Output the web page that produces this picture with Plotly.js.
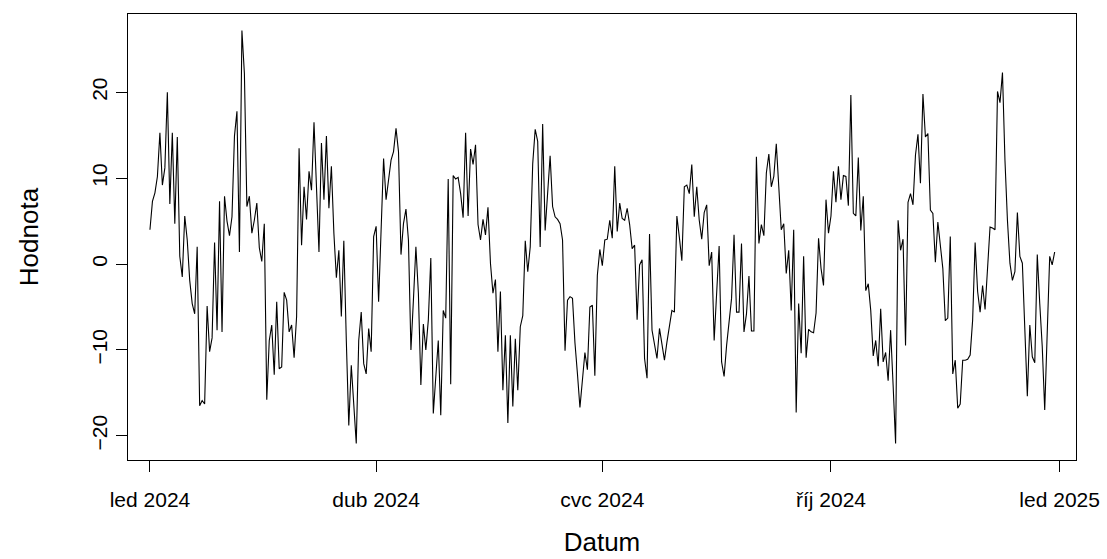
<!DOCTYPE html>
<html>
<head>
<meta charset="utf-8">
<script src="https://cdn.plot.ly/plotly-3.0.1.min.js"></script>
<style>html,body{margin:0;padding:0;background:#fff;}#chart{width:1107px;height:559px;}</style>
</head>
<body>
<div id="chart"></div>
<script>
// Daily series, starting 1 Jan 2024
const startDate = '2024-01-01';
const values = [
 4.0, 7.3, 8.3, 10.2, 15.3, 9.2, 11.2, 20.0, 7.0, 15.3,
 4.7, 14.8, 0.9, -1.5, 5.6, 2.8, -1.9, -4.6, -5.8, 2.0,
 -16.5, -15.9, -16.3, -4.9, -10.2, -8.6, 2.5, -7.7, 7.3, -7.9,
 7.9, 5.0, 3.3, 5.5, 14.9, 17.8, 1.4, 27.2, 22.2, 6.7,
 7.9, 3.6, 5.1, 7.1, 1.9, 0.3, 4.7, -15.8, -8.9, -7.1,
 -12.9, -4.4, -12.2, -12.0, -3.3, -4.2, -7.9, -7.1, -10.9, -6.1,
 13.5, 2.2, 9.0, 5.2, 10.8, 8.6, 16.5, 8.0, 1.4, 14.1,
 7.5, 14.9, 6.5, 11.4, 3.6, -1.6, 1.6, -6.1, 2.7, -8.9,
 -18.8, -11.8, -17.0, -20.9, -8.9, -5.6, -11.6, -12.8, -7.5, -10.2,
 3.2, 4.4, -4.4, 4.0, 12.3, 7.5, 9.8, 12.1, 13.1, 15.8,
 13.1, 1.1, 4.7, 6.4, 2.8, -10.0, -4.2, 2.0, -3.4, -14.1,
 -7.0, -10.0, -6.5, 0.7, -17.4, -12.7, -8.9, -17.6, -5.4, -6.3,
 9.9, -14.0, 10.3, 9.9, 10.1, 8.2, 5.4, 15.3, 5.6, 13.4,
 11.6, 13.9, 4.6, 2.8, 5.2, 3.4, 6.6, 0.1, -3.4, -1.8,
 -10.2, -3.2, -14.7, -8.3, -18.5, -8.3, -16.6, -8.7, -14.7, -7.3,
 -6.0, 2.7, -0.9, 2.0, 11.7, 15.7, 14.3, 2.0, 16.3, 3.9,
 8.2, 12.6, 6.7, 5.5, 5.2, 4.7, 2.8, -10.1, -4.2, -3.8,
 -4.0, -9.2, -12.8, -16.7, -13.5, -10.3, -12.3, -5.0, -4.8, -13.0,
 -1.3, 1.7, -0.2, 2.8, 2.9, 5.1, 3.0, 11.4, 3.8, 7.1,
 5.3, 5.1, 6.5, 4.6, 1.8, 2.2, -6.5, -0.1, 0.5, -11.0,
 -13.3, 3.5, -7.7, -9.5, -11.0, -7.5, -9.5, -11.2, -9.1, -7.3,
 -5.4, -5.6, 5.6, 3.1, 0.4, 9.0, 9.2, 8.2, 11.6, 5.5,
 9.0, 5.1, 2.9, 6.0, 6.9, -0.2, 1.4, -8.9, -3.4, 2.1,
 -11.4, -13.1, -9.5, -6.5, -4.0, 3.4, -5.6, -5.6, 2.4, -7.9,
 -5.8, -1.4, -7.8, -7.8, 12.5, 2.4, 4.6, 3.3, 10.6, 12.8,
 9.0, 10.2, 14.0, 9.0, 4.0, 4.7, -1.1, 1.6, -5.4, 4.0,
 -17.3, -4.6, -10.4, 0.9, -10.9, -7.6, -7.9, -8.0, -5.7, 3.0,
 -0.5, -2.5, 7.5, 3.6, 5.6, 10.8, 7.2, 11.4, 7.5, 10.3,
 10.2, 6.8, 19.7, 5.9, 5.6, 12.4, 3.9, 7.9, -3.1, -2.3,
 -5.4, -10.7, -8.9, -11.9, -5.2, -11.4, -10.3, -13.6, -7.7, -14.1,
 -20.9, 5.1, 1.6, 2.9, -9.5, 7.2, 8.2, 6.9, 12.7, 15.1,
 9.4, 19.8, 14.8, 15.2, 6.3, 5.9, 0.2, 4.9, 2.4, -0.5,
 -6.6, -6.3, 3.2, -12.8, -11.2, -16.8, -16.3, -11.2, -11.2, -11.1,
 -10.6, -6.5, 2.5, -3.2, -5.6, -2.5, -5.3, -0.1, 4.3, 4.2,
 4.0, 20.1, 18.8, 22.3, 12.1, 5.1, 0.1, -1.9, -0.9, 6.0,
 0.9, 0.1, -7.3, -15.4, -7.1, -10.8, -11.5, 1.1, -4.6, -9.6,
 -17.0, -7.3, 0.9, -0.1, 1.4
];
const xTickDates = ['2024-01-01', '2024-04-01', '2024-07-01', '2024-10-01', '2025-01-01'];
const xTickLabels = ['led 2024', 'dub 2024', 'cvc 2024', 'říj 2024', 'led 2025'];
const yTickVals = [-20, -10, 0, 10, 20];
const xTitle = 'Datum';
const yTitle = 'Hodnota';

function isoDay(i) {
  const d = new Date(startDate + 'T00:00:00Z');
  d.setUTCDate(d.getUTCDate() + i);
  return d.toISOString().slice(0, 10);
}
const dates = values.map((v, i) => isoDay(i));

const ymin = Math.min(...values), ymax = Math.max(...values);
const pad = 0.04 * (ymax - ymin);

const font = 'Liberation Sans, Arial, Helvetica, sans-serif';

const trace = {
  x: dates, y: values, type: 'scatter', mode: 'lines',
  line: {color: '#000', width: 1.1}, hoverinfo: 'x+y'
};

const layout = {
  width: 1107, height: 559,
  margin: {l: 128, r: 31, t: 14, b: 99, pad: 0},
  paper_bgcolor: '#fff', plot_bgcolor: '#fff',
  showlegend: false,
  font: {family: font, color: '#000', size: 21},
  xaxis: {
    type: 'date',
    range: ['2023-12-23 04:00', '2025-01-07 14:00'],
    tickmode: 'array', tickvals: xTickDates, ticktext: xTickLabels,
    ticks: 'outside', ticklen: 11, tickwidth: 1, tickcolor: '#000',
    showline: true, mirror: true, linecolor: '#000', linewidth: 1,
    showgrid: false, zeroline: false,
    tickfont: {family: font, size: 21, color: '#000'},
    ticklabelstandoff: 10,
    title: {text: xTitle, font: {family: font, size: 26, color: '#000'}, standoff: 22},
    automargin: false
  },
  yaxis: {
    range: [ymin - pad, ymax + pad],
    tickmode: 'array', tickvals: yTickVals,
    ticks: 'outside', ticklen: 11, tickwidth: 1, tickcolor: '#000',
    showline: true, mirror: true, linecolor: '#000', linewidth: 1,
    showgrid: false, zeroline: false,
    tickangle: -90,
    tickfont: {family: font, size: 21, color: '#000'},
    ticklabelstandoff: 1,
    title: {text: yTitle, font: {family: font, size: 26, color: '#000'}, standoff: 41},
    automargin: false
  }
};

Plotly.newPlot('chart', [trace], layout, {displayModeBar: false, staticPlot: false});
</script>
</body>
</html>
